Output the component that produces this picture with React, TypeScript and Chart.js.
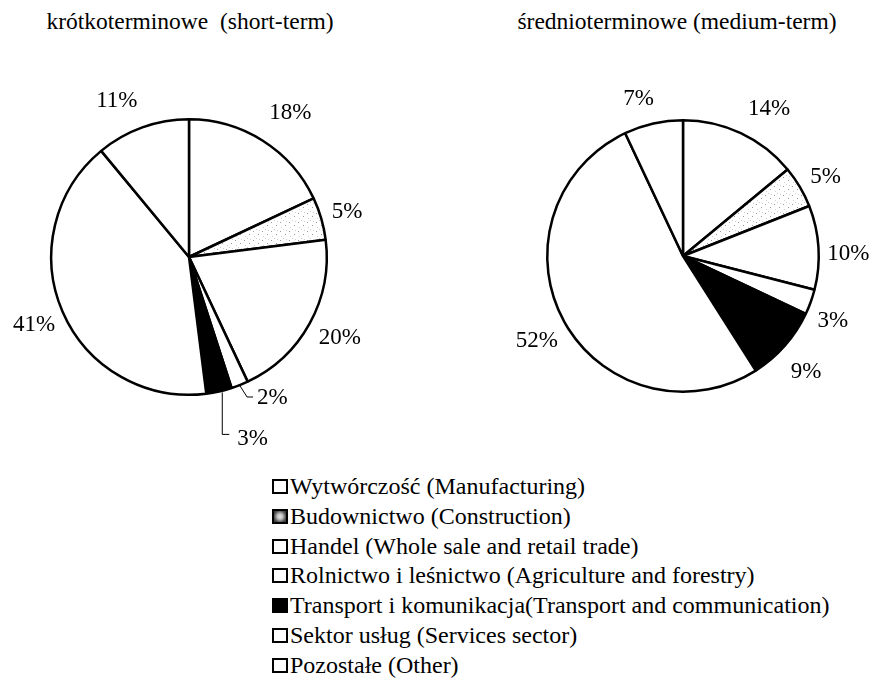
import React, { useEffect, useRef } from "react";
import { Chart, registerables } from "chart.js";

Chart.register(...registerables);

const categories = [
  "Wytwórczość (Manufacturing)",
  "Budownictwo (Construction)",
  "Handel (Whole sale and retail trade)",
  "Rolnictwo i leśnictwo (Agriculture and forestry)",
  "Transport i komunikacja(Transport and communication)",
  "Sektor usług (Services sector)",
  "Pozostałe (Other)",
];
const shortTermValues = [18, 5, 20, 2, 3, 41, 11];
const mediumTermValues = [14, 5, 10, 3, 9, 52, 7];
const titles = ["krótkoterminowe  (short-term)", "średnioterminowe (medium-term)"];

const FONT = '"Liberation Serif", "Times New Roman", serif';

function makeSpecklePattern(ctx: CanvasRenderingContext2D) {
  const c = document.createElement("canvas");
  c.width = 9;
  c.height = 9;
  const g = c.getContext("2d")!;
  g.fillStyle = "#ffffff";
  g.fillRect(0, 0, 9, 9);
  g.fillStyle = "#9a9a9a";
  g.fillRect(1, 2, 1, 1);
  g.fillRect(6, 5, 1, 1);
  g.fillStyle = "#cfcfcf";
  g.fillRect(4, 0, 1, 1);
  g.fillRect(2, 7, 1, 1);
  g.fillRect(7, 1, 1, 1);
  return ctx.createPattern(c, "repeat");
}

const pctLabels = {
  id: "pctLabels",
  afterDatasetsDraw(chart: any, _args: any, opts: any) {
    const ctx = chart.ctx as CanvasRenderingContext2D;
    const meta = chart.getDatasetMeta(0);
    const data = chart.data.datasets[0].data as number[];
    const size = opts.size || 22;
    ctx.save();
    ctx.font = `${size}px ${FONT}`;
    ctx.fillStyle = "#000";
    ctx.strokeStyle = "#000";
    meta.data.forEach((arc: any, i: number) => {
      const p = arc.getProps(["x", "y", "startAngle", "endAngle", "outerRadius"], true);
      const mid = (p.startAngle + p.endAngle) / 2;
      const text = data[i] + "%";
      const leader = opts.leaders && opts.leaders[i];
      const ex = p.x + Math.cos(mid) * (p.outerRadius + 1);
      const ey = p.y + Math.sin(mid) * (p.outerRadius + 1);
      if (leader) {
        const sx = ex + leader.start[0];
        const sy = ey + leader.start[1];
        ctx.beginPath();
        ctx.moveTo(sx, sy);
        leader.path.forEach((pt: number[]) => ctx.lineTo(ex + pt[0], ey + pt[1]));
        ctx.lineWidth = 1;
        ctx.stroke();
        ctx.textAlign = "left";
        ctx.textBaseline = "alphabetic";
        ctx.fillText(text, ex + leader.text[0], ey + leader.text[1] + size * 0.34);
      } else {
        const r = p.outerRadius + opts.offset;
        const nudge = (opts.nudges && opts.nudges[i]) || [0, 0];
        ctx.textAlign = "center";
        ctx.textBaseline = "alphabetic";
        ctx.fillText(
          text,
          p.x + Math.cos(mid) * r + nudge[0],
          p.y + Math.sin(mid) * r + nudge[1] + size * 0.34
        );
      }
    });
    ctx.restore();
  },
};

type PieProps = {
  values: number[];
  left: number;
  top: number;
  width: number;
  height: number;
  padding: { left: number; right: number; top: number; bottom: number };
  leaders?: any;
  nudges?: any;
};

function Pie({ values, left, top, width, height, padding, leaders, nudges }: PieProps) {
  const ref = useRef<HTMLCanvasElement>(null);
  useEffect(() => {
    const canvas = ref.current!;
    const ctx = canvas.getContext("2d")!;
    const speckle = makeSpecklePattern(ctx);
    const colors = ["#ffffff", speckle, "#ffffff", "#ffffff", "#000000", "#ffffff", "#ffffff"];
    const chart = new Chart(canvas, {
      type: "pie",
      data: {
        labels: categories,
        datasets: [
          {
            data: values,
            backgroundColor: colors as any,
            borderColor: "#000000",
            borderWidth: 2.5,
            hoverOffset: 0,
          },
        ],
      },
      options: {
        animation: false,
        responsive: false,
        devicePixelRatio: 1,
        events: [],
        layout: { padding },
        plugins: {
          legend: { display: false },
          tooltip: { enabled: false },
          title: { display: false },
          pctLabels: { size: 23, offset: 31, leaders, nudges },
        } as any,
      },
      plugins: [pctLabels],
    });
    return () => chart.destroy();
  }, []);
  return (
    <canvas
      ref={ref}
      width={width}
      height={height}
      style={{ position: "absolute", left, top, width, height }}
    />
  );
}

function LegendBox({ i }: { i: number }) {
  let bg = "#ffffff";
  if (i === 1) bg = "radial-gradient(circle at 50% 50%, #e8e8e8 0%, #bdbdbd 35%, #444 75%)";
  if (i === 4) bg = "#000000";
  return (
    <span
      style={{
        position: "absolute",
        left: 0,
        top: 7,
        width: 16,
        height: 15,
        boxSizing: "border-box",
        border: "2.5px solid #000",
        background: bg,
      }}
    />
  );
}

const titleStyle: React.CSSProperties = {
  position: "absolute",
  width: 380,
  top: 9,
  textAlign: "center",
  fontSize: 23.5,
  whiteSpace: "pre",
  lineHeight: "24px",
};

export default function App() {
  return (
    <div
      style={{
        position: "fixed",
        left: 0,
        top: 0,
        width: 871,
        height: 686,
        background: "#fff",
        fontFamily: FONT,
        color: "#000",
        overflow: "hidden",
      }}
    >
      <div style={{ ...titleStyle, left: 0 }}>{titles[0]}</div>
      <div style={{ ...titleStyle, left: 487 }}>{titles[1]}</div>
      <Pie
        values={shortTermValues}
        left={0}
        top={40}
        width={400}
        height={420}
        padding={{ left: 50, right: 72, top: 78, bottom: 64 }}
        leaders={{
          3: { start: [0, 0], path: [[7, 11], [13, 11]], text: [17, 10] },
          4: { start: [3, 0], path: [[3, 42], [10, 42]], text: [18, 45] },
        }}
        nudges={{ 0: [11, -3], 1: [-4, 0], 2: [3, -2], 5: [0, -1], 6: [-15, 1] }}
      />
      <Pie
        values={mediumTermValues}
        left={440}
        top={40}
        width={431}
        height={420}
        padding={{ left: 106, right: 51, top: 79, bottom: 67 }}
        nudges={{ 0: [15, 2], 1: [-1, 4], 2: [-1, 7], 3: [-7, 7], 4: [-2, 4], 5: [0, 3], 6: [-8, 4] }}
      />
      <div style={{ position: "absolute", left: 272, top: 472 }}>
        {categories.map((c, i) => (
          <div
            key={c}
            style={{
              position: "relative",
              height: 29.8,
              lineHeight: "29.8px",
              fontSize: 24,
              paddingLeft: 18,
              whiteSpace: "nowrap",
            }}
          >
            <LegendBox i={i} />
            {c}
          </div>
        ))}
      </div>
    </div>
  );
}
